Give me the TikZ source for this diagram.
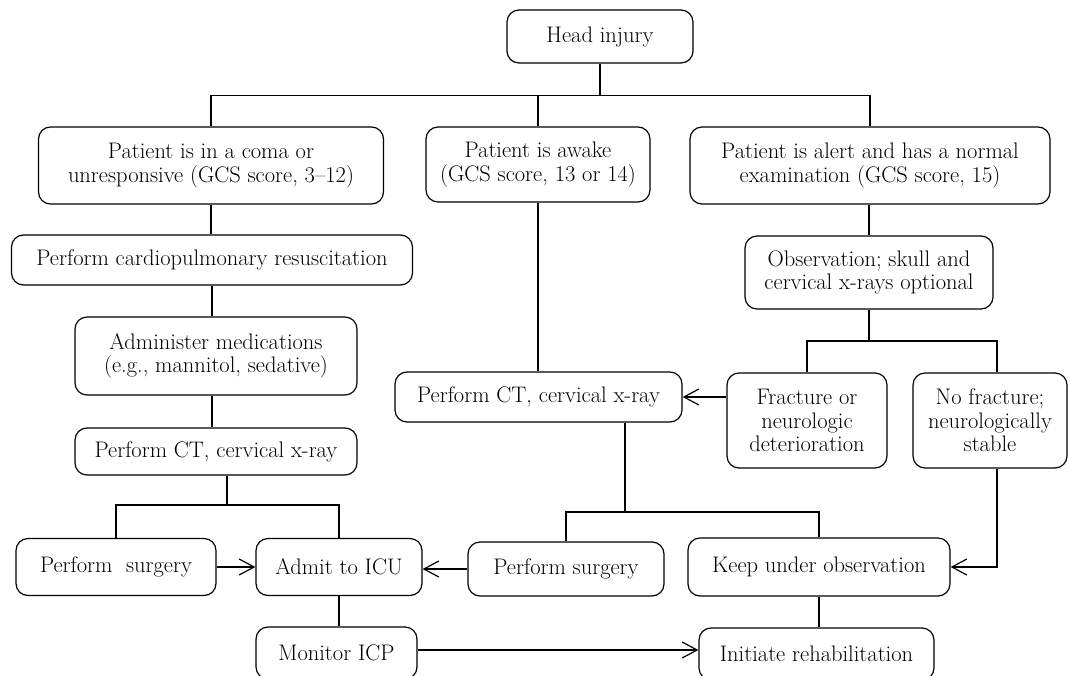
\documentclass[tikz,border=0pt]{standalone}
\usetikzlibrary{arrows.meta}
\begin{document}
\begin{tikzpicture}[x=1pt,y=-1pt,
  box/.style={draw, line width=1.2pt, rounded corners=12pt, align=center, inner sep=0pt,
    font=\fontsize{22.5}{23.5}\selectfont},
  link/.style={line width=1.2pt},
  arr/.style={line width=1.2pt, -{Straight Barb[length=15pt,width=16pt,line width=1.2pt]}}]
\clip (0,0) rectangle (1068,675);
\fill[white] (0,0) rectangle (1068,675);
% nodes
\node[box, minimum width=186pt, minimum height=53pt] (head) at (600,36.5) {Head injury};
\node[box, minimum width=345pt, minimum height=77pt] (coma) at (211,165.5) {Patient is in a coma or\\unresponsive (GCS score, 3--12)};
\node[box, minimum width=224pt, minimum height=75pt] (awake) at (538,164.5) {Patient is awake\\(GCS score, 13 or 14)};
\node[box, minimum width=360pt, minimum height=77pt] (alert) at (870,165.5) {Patient is alert and has a normal\\examination (GCS score, 15)};
\node[box, minimum width=401pt, minimum height=50pt] (cpr) at (212,260) {Perform cardiopulmonary resuscitation};
\node[box, minimum width=282pt, minimum height=78pt] (admin) at (216,356) {Administer medications\\(e.g., mannitol, sedative)};
\node[box, minimum width=282pt, minimum height=47pt] (ctl) at (216,451.5) {Perform CT, cervical x-ray};
\node[box, minimum width=200pt, minimum height=57pt] (surgl) at (116,567) {Perform~ surgery};
\node[box, minimum width=166pt, minimum height=57pt] (icu) at (339,567) {Admit to ICU};
\node[box, minimum width=161pt, minimum height=52pt] (icp) at (336.5,653) {Monitor ICP};
\node[box, minimum width=287pt, minimum height=50pt] (ctm) at (538.5,397) {Perform CT, cervical x-ray};
\node[box, minimum width=196pt, minimum height=54pt] (surgm) at (566,569) {Perform surgery};
\node[box, minimum width=262pt, minimum height=58pt] (keep) at (819,567) {Keep under observation};
\node[box, minimum width=235pt, minimum height=52pt] (rehab) at (816.5,654) {Initiate rehabilitation};
\node[box, minimum width=248pt, minimum height=73pt] (obs) at (869,272.5) {Observation; skull and\\cervical x-rays optional};
\node[box, minimum width=160pt, minimum height=95pt] (frac) at (807,420.5) {Fracture or\\neurologic\\deterioration};
\node[box, minimum width=154pt, minimum height=95pt] (nofrac) at (990,420.5) {No fracture;\\neurologically\\stable};
% junction coordinates
\coordinate (j1) at (600,95.5);
\coordinate (j2) at (227,505);
\coordinate (j3) at (625,512);
\coordinate (j4) at (869,341);
% connectors
\draw[link] (head.south) -- (head.south |- j1);
\draw[link] (coma.north) -- (coma.north |- j1) -- (alert.north |- j1) -- (alert.north);
\draw[link] (awake.north |- j1) -- (awake.north);
\draw[link] (coma.south) -- (coma.south |- cpr.north);
\draw[link] (cpr.south) -- (cpr.south |- admin.north);
\draw[link] (cpr.south |- admin.south) -- (cpr.south |- ctl.north);
\draw[link] ([xshift=11pt]ctl.south) -- (j2);
\draw[link] (surgl.north) -- (surgl.north |- j2) -- (icu.north |- j2) -- (icu.north);
\draw[arr] (surgl.east) -- (icu.west);
\draw[arr] (surgm.west) -- (surgm.west -| icu.east);
\draw[link] (icu.south) -- (icu.south |- icp.north);
\draw[arr] (icp.east |- 0,650) -- (rehab.west |- 0,650);
\draw[link] (awake.south) -- (awake.south |- ctm.north);
\draw[link] ([xshift=86.5pt]ctm.south) -- (j3);
\draw[link] (surgm.north) -- (surgm.north |- j3) -- (keep.south |- j3) -- (keep.south |- keep.north);
\draw[link] (keep.south) -- (keep.south |- rehab.north);
\draw[link] (alert.south -| obs.north) -- (obs.north);
\draw[link] (obs.south) -- (j4);
\draw[link] (frac.north) -- (frac.north |- j4) -- ([xshift=7pt]nofrac.north |- j4) -- ([xshift=7pt]nofrac.north);
\draw[arr] (frac.west |- ctm.east) -- (ctm.east);
\draw[arr] ([xshift=7pt]nofrac.south) |- (keep.east);
\end{tikzpicture}
\end{document}
